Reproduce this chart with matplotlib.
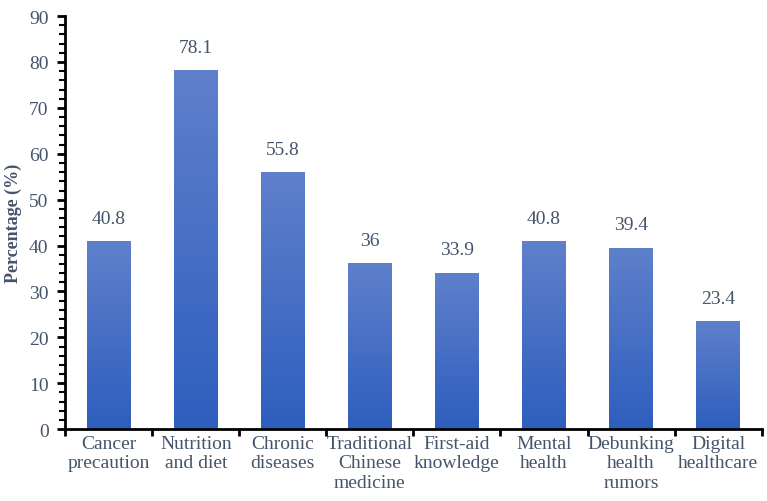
import numpy as np
import matplotlib
matplotlib.use('Agg')
from matplotlib import pyplot as plt
from matplotlib.colors import LinearSegmentedColormap
from matplotlib.ticker import MultipleLocator, FixedLocator

categories = ['Cancer\nprecaution', 'Nutrition\nand diet', 'Chronic\ndiseases',
              'Traditional\nChinese\nmedicine', 'First-aid\nknowledge', 'Mental\nhealth',
              'Debunking\nhealth\nrumors', 'Digital\nhealthcare']
values = [40.8, 78.1, 55.8, 36, 33.9, 40.8, 39.4, 23.4]
value_labels = ['40.8', '78.1', '55.8', '36', '33.9', '40.8', '39.4', '23.4']

plt.rcParams['font.family'] = ['Liberation Serif', 'DejaVu Serif']
text_col = '#44546A'

fig = plt.figure(figsize=(7.67, 5.02), dpi=100)
ax = fig.add_axes([0.085, 0.143, 0.908, 0.823])

x = np.arange(len(values))
bars = ax.bar(x, values, width=0.5, color='none', zorder=2)

# gradient fill per bar, light at top, darker at bottom
cmap = LinearSegmentedColormap.from_list('g', ['#2E5EBE', '#5F80CB'])
grad = np.linspace(0, 1, 256).reshape(-1, 1)
for b in bars:
    x0, w, h = b.get_x(), b.get_width(), b.get_height()
    ax.imshow(grad, cmap=cmap, aspect='auto', origin='lower',
              extent=(x0, x0 + w, 0, h), zorder=2, interpolation='bilinear')

for b, lab in zip(bars, value_labels):
    ax.text(b.get_x() + b.get_width() / 2, b.get_height() + 3.3, lab,
            ha='center', va='bottom', fontsize=14, color=text_col)

ax.set_xlim(-0.5, len(values) - 0.5)
ax.set_ylim(0, 90)
ax.yaxis.set_major_locator(MultipleLocator(10))
ax.yaxis.set_minor_locator(MultipleLocator(2))
ax.set_xticks(x)
ax.set_xticklabels(categories, fontsize=14, color=text_col, linespacing=1.2)
ax.xaxis.set_minor_locator(FixedLocator(np.arange(-0.5, len(values), 1.0)))
ax.tick_params(axis='x', which='major', length=0, pad=4)
ax.tick_params(axis='x', which='minor', length=5, width=2, direction='out')
ax.tick_params(axis='y', which='major', length=6, width=2, direction='out',
               labelsize=14, labelcolor=text_col, pad=6)
ax.tick_params(axis='y', which='minor', length=4, width=1.5, direction='out')

for s in ['top', 'right']:
    ax.spines[s].set_visible(False)
for s in ['left', 'bottom']:
    ax.spines[s].set_linewidth(2)

ax.set_ylabel('Percentage (%)', fontsize=13, fontweight='bold', color=text_col, labelpad=5)

fig.savefig('out.png', dpi=100)
